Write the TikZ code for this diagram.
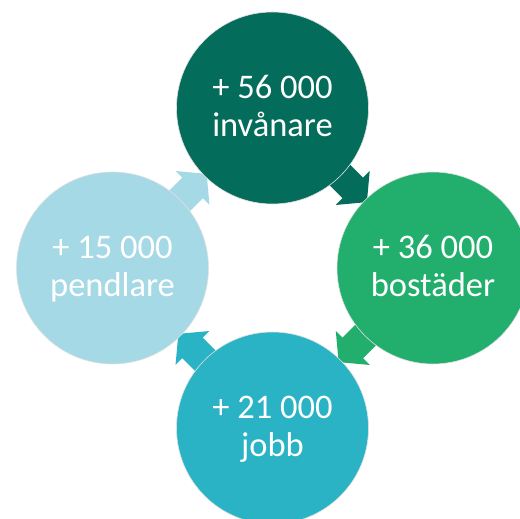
\documentclass[tikz,border=0pt]{standalone}
\usepackage{fontspec}
\setmainfont{Carlito}
\usetikzlibrary{calc,backgrounds}
\definecolor{cdark}{HTML}{046C5B}
\definecolor{cgreen}{HTML}{22AE6C}
\definecolor{cteal}{HTML}{2AB2C5}
\definecolor{clight}{HTML}{A6D9E6}
\tikzset{
  disc/.style={circle, minimum size=192pt, inner sep=0pt, draw=black!12, line width=0.6pt},
  lbl/.style={anchor=base, inner sep=0pt, text=white, font=\fontsize{34.5}{38}\selectfont},
  blockarr/.pic={\fill[pic actions] (-50,14.5) -- (0,14.5) -- (0,24) -- (20,0) -- (0,-24) -- (0,-14.5) -- (-50,-14.5) -- cycle;}
}
\begin{document}
\begin{tikzpicture}[x=1pt,y=1pt]
\useasboundingbox (0,0) rectangle (520,519);
\clip (0,0) rectangle (520,519);
\node[disc, fill=cdark]  (top)    at (272.5,411) {};
\node[disc, fill=cgreen] (right)  at (433,251) {};
\node[disc, fill=cteal]  (bottom) at (272.5,91) {};
\node[disc, fill=clight] (left)   at (112.5,251) {};
\begin{scope}[on background layer]
\pic[fill=cdark,  rotate=-45]  at ($(top)!0.5!(right)$) {blockarr};
\pic[fill=cgreen, rotate=-135] at ($(right)!0.5!(bottom)$) {blockarr};
\pic[fill=cteal,  rotate=135]  at ($(bottom)!0.5!(left)$) {blockarr};
\pic[fill=clight, rotate=45]   at ($(left)!0.5!(top)$) {blockarr};
\end{scope}
\node[lbl] (t1) at ($(top)+(0,9.5)$) {+ 56 000};
\node[lbl] (t2) at ($(top)+(0,-28.5)$) {invånare};
\node[lbl] (r1) at ($(right)+(0,9.5)$) {+ 36 000};
\node[lbl] (r2) at ($(right)+(0,-28.5)$) {bostäder};
\node[lbl] (b1) at ($(bottom)+(0,9.5)$) {+ 21 000};
\node[lbl] (b2) at ($(bottom)+(0,-28.5)$) {jobb};
\node[lbl] (l1) at ($(left)+(0,9.5)$) {+ 15 000};
\node[lbl] (l2) at ($(left)+(0,-28.5)$) {pendlare};
\end{tikzpicture}
\end{document}
